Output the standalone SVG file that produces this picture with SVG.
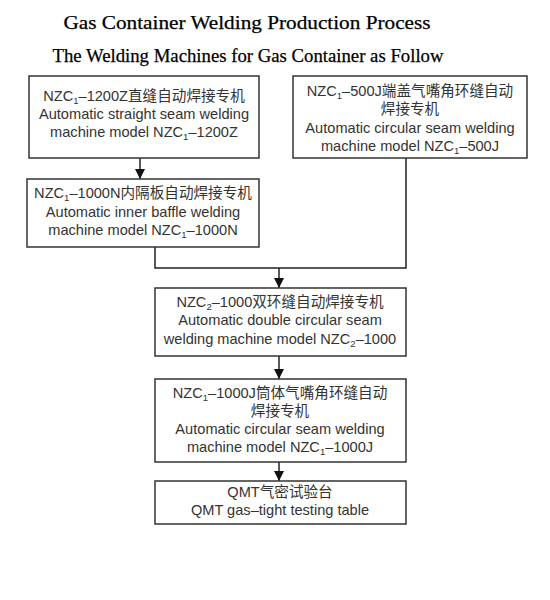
<svg xmlns="http://www.w3.org/2000/svg" width="550" height="600" viewBox="0 0 550 600">
<defs>
<marker id="ah" viewBox="0 0 10 10" refX="10" refY="5" markerWidth="10" markerHeight="10" markerUnits="userSpaceOnUse" orient="auto">
<path d="M0,0 L10,5 L0,10 z" fill="#111"/>
</marker>
</defs>
<style>
.title{font-family:"Liberation Serif","DejaVu Serif",serif;font-size:19.5px;fill:#000;text-anchor:middle;stroke:#000;stroke-width:0.25}
.box{fill:#fff;stroke:#333;stroke-width:1.5}
.t{font-family:"Liberation Sans","Noto Sans CJK SC",sans-serif;font-size:14.6px;fill:#333;text-anchor:middle}
.s{font-size:9.5px}
.c{fill:none;stroke:#222;stroke-width:1.5}
</style>
<rect width="550" height="600" fill="#fff"/>
<text class="title" x="247" y="29" textLength="367" lengthAdjust="spacingAndGlyphs">Gas Container Welding Production Process</text>
<text class="title" x="248" y="62" textLength="391" lengthAdjust="spacingAndGlyphs">The Welding Machines for Gas Container as Follow</text>

<g id="connectors">
<line class="c" x1="140" y1="158" x2="140" y2="179" marker-end="url(#ah)"/>
<polyline class="c" points="155,247 155,268 406,268 406,158"/>
<line class="c" x1="279" y1="268" x2="279" y2="288" marker-end="url(#ah)"/>
<line class="c" x1="279" y1="356" x2="279" y2="379" marker-end="url(#ah)"/>
<line class="c" x1="279" y1="462" x2="279" y2="481" marker-end="url(#ah)"/>
</g>

<g id="n1">
<rect class="box" x="29" y="76" width="230" height="82"/>
<text class="t" x="144" y="101">NZC<tspan class="s" dy="3">1</tspan><tspan dy="-3">–1200Z直缝自动焊接专机</tspan></text>
<text class="t" x="144" y="119">Automatic straight seam welding</text>
<text class="t" x="144" y="137">machine model NZC<tspan class="s" dy="3">1</tspan><tspan dy="-3">–1200Z</tspan></text>
</g>

<g id="n2">
<rect class="box" x="293" y="76" width="234" height="82"/>
<text class="t" x="410" y="96">NZC<tspan class="s" dy="3">1</tspan><tspan dy="-3">–500J端盖气嘴角环缝自动</tspan></text>
<text class="t" x="410" y="114">焊接专机</text>
<text class="t" x="410" y="132.5">Automatic circular seam welding</text>
<text class="t" x="410" y="151">machine model NZC<tspan class="s" dy="3">1</tspan><tspan dy="-3">–500J</tspan></text>
</g>

<g id="n3">
<rect class="box" x="27" y="179" width="232" height="68"/>
<text class="t" x="143" y="198">NZC<tspan class="s" dy="3">1</tspan><tspan dy="-3">–1000N内隔板自动焊接专机</tspan></text>
<text class="t" x="143" y="216.5">Automatic inner baffle welding</text>
<text class="t" x="143" y="235">machine model NZC<tspan class="s" dy="3">1</tspan><tspan dy="-3">–1000N</tspan></text>
</g>

<g id="n4">
<rect class="box" x="155" y="288" width="251" height="68"/>
<text class="t" x="280" y="307">NZC<tspan class="s" dy="3">2</tspan><tspan dy="-3">–1000双环缝自动焊接专机</tspan></text>
<text class="t" x="280" y="325">Automatic double circular seam</text>
<text class="t" x="280" y="343.5">welding machine model NZC<tspan class="s" dy="3">2</tspan><tspan dy="-3">–1000</tspan></text>
</g>

<g id="n5">
<rect class="box" x="155" y="379" width="251" height="83"/>
<text class="t" x="280" y="398">NZC<tspan class="s" dy="3">1</tspan><tspan dy="-3">–1000J筒体气嘴角环缝自动</tspan></text>
<text class="t" x="280" y="415.5">焊接专机</text>
<text class="t" x="280" y="434">Automatic circular seam welding</text>
<text class="t" x="280" y="452">machine model NZC<tspan class="s" dy="3">1</tspan><tspan dy="-3">–1000J</tspan></text>
</g>

<g id="n6">
<rect class="box" x="155" y="481" width="251" height="43"/>
<text class="t" x="280" y="497">QMT气密试验台</text>
<text class="t" x="280" y="515">QMT gas–tight testing table</text>
</g>
</svg>
